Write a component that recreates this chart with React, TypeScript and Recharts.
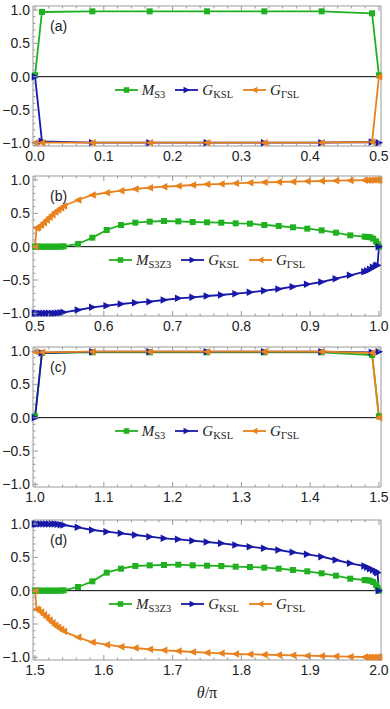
import { LineChart, Line, XAxis, YAxis, ReferenceLine, Legend } from "recharts";

const FRAME = "#999999";
const TEXT = "#222222";
const GREEN = "#20b020";
const BLUE = "#1818a8";
const ORANGE = "#e8821e";

// tick labels
const yMajor = [-1, -0.5, 0, 0.5, 1];
const xMajorA = [0, 0.1, 0.2, 0.3, 0.4, 0.5];
const xMajorB = [0.5, 0.6, 0.7, 0.8, 0.9, 1.0];
const xMajorC = [1.0, 1.1, 1.2, 1.3, 1.4, 1.5];
const xMajorD = [1.5, 1.6, 1.7, 1.8, 1.9, 2.0];

// panel (a)
const xA = [0, 0.01, 0.0833, 0.1667, 0.25, 0.3333, 0.4167, 0.49, 0.5];
const mA = [0.02, 0.97, 0.98, 0.98, 0.98, 0.98, 0.98, 0.95, 0.02];
const kA = [0.0, -0.97, -0.99, -0.99, -0.99, -0.99, -0.99, -0.98, -0.99];
const gA = [-0.99, -0.99, -0.99, -0.99, -0.99, -0.99, -0.99, -0.98, 0.0];

// panel (b)
const xB = [
  0.5, 0.5021, 0.5042, 0.5083, 0.5125, 0.5167, 0.5208, 0.525, 0.5292, 0.5333, 0.5375, 0.5417,
  0.5625, 0.5833, 0.6042, 0.625, 0.6458, 0.6667, 0.6875, 0.7083, 0.7292, 0.75, 0.7708, 0.7917,
  0.8125, 0.8333, 0.8542, 0.875, 0.8958, 0.9167, 0.9375, 0.9583, 0.9792,
  0.9833, 0.9875, 0.9917, 0.9958, 0.9979, 1.0,
];
const mB = [
  0, 0, 0, 0, 0, 0, 0, 0, 0, 0, 0, 0.005,
  0.04, 0.135, 0.25, 0.325, 0.36, 0.375, 0.385, 0.38, 0.37, 0.365, 0.36, 0.35,
  0.345, 0.325, 0.31, 0.29, 0.27, 0.245, 0.21, 0.17, 0.15,
  0.145, 0.14, 0.12, 0.08, 0.04, 0.0,
];
const kB = [
  -1.0, -1.0, -1.0, -1.0, -1.0, -1.0, -1.0, -1.0, -1.0, -0.995, -0.99, -0.985,
  -0.95, -0.91, -0.885, -0.86, -0.84, -0.825, -0.8, -0.775, -0.76, -0.74, -0.725, -0.705,
  -0.685, -0.66, -0.635, -0.6, -0.565, -0.53, -0.48, -0.43, -0.375,
  -0.36, -0.34, -0.31, -0.29, -0.28, 0.0,
];
const gB = [
  0.0, 0.28, 0.29, 0.32, 0.36, 0.4, 0.44, 0.48, 0.52, 0.55, 0.58, 0.61,
  0.7, 0.775, 0.81, 0.84, 0.865, 0.885, 0.9, 0.91, 0.925, 0.935, 0.94, 0.95,
  0.96, 0.965, 0.97, 0.975, 0.98, 0.985, 0.99, 0.993, 0.996,
  0.997, 0.998, 0.999, 1.0, 1.0, 1.0,
];

// panel (c)
const xC = [1.0, 1.01, 1.0833, 1.1667, 1.25, 1.3333, 1.4167, 1.49, 1.5];
const mC = [0.02, 0.97, 0.98, 0.98, 0.98, 0.98, 0.98, 0.94, 0.02];
const kC = [0.0, 0.97, 0.99, 0.99, 0.99, 0.99, 0.99, 0.98, 0.99];
const gC = [0.99, 0.98, 0.99, 0.99, 0.99, 0.99, 0.99, 0.97, 0.0];

// panel (d)
const xD = [
  1.5, 1.5021, 1.5042, 1.5083, 1.5125, 1.5167, 1.5208, 1.525, 1.5292, 1.5333, 1.5375, 1.5417,
  1.5625, 1.5833, 1.6042, 1.625, 1.6458, 1.6667, 1.6875, 1.7083, 1.7292, 1.75, 1.7708, 1.7917,
  1.8125, 1.8333, 1.8542, 1.875, 1.8958, 1.9167, 1.9375, 1.9583, 1.9792,
  1.9833, 1.9875, 1.9917, 1.9958, 1.9979, 2.0,
];
const mD = [
  0, 0, 0, 0, 0, 0, 0, 0, 0, 0, 0, 0.005,
  0.055, 0.14, 0.27, 0.33, 0.37, 0.38, 0.385, 0.39, 0.38, 0.375, 0.37, 0.36,
  0.355, 0.345, 0.33, 0.31, 0.29, 0.26, 0.225, 0.18, 0.16,
  0.155, 0.15, 0.13, 0.09, 0.04, 0.0,
];
const kD = [
  1.0, 1.0, 1.0, 1.0, 1.0, 1.0, 1.0, 1.0, 1.0, 0.995, 0.99, 0.985,
  0.95, 0.91, 0.885, 0.86, 0.835, 0.81, 0.785, 0.77, 0.75, 0.73, 0.71, 0.685,
  0.66, 0.635, 0.61, 0.575, 0.545, 0.51, 0.46, 0.41, 0.37,
  0.35, 0.33, 0.31, 0.29, 0.27, 0.0,
];
const gD = [
  0.0, -0.28, -0.29, -0.32, -0.36, -0.4, -0.44, -0.48, -0.52, -0.55, -0.58, -0.61,
  -0.7, -0.775, -0.81, -0.84, -0.86, -0.88, -0.895, -0.905, -0.92, -0.93, -0.94, -0.95,
  -0.955, -0.96, -0.965, -0.97, -0.975, -0.98, -0.985, -0.99, -0.995,
  -0.997, -0.998, -0.999, -1.0, -1.0, -1.0,
];

const yDomain = [-1.04, 1.06];

function withMinor(major: number[], step: number) {
  const lo = major[0];
  const hi = major[major.length - 1];
  const n = Math.round((hi - lo) / step);
  const out: number[] = [];
  for (let i = 0; i <= n; i++) out.push(+(lo + i * step).toFixed(4));
  return out;
}

const fmt = (v: number) => v.toFixed(1).replace("-", "\u2212");

function FrameTick(props: any) {
  const { x, y, payload, side, majors } = props;
  const v = payload.value;
  const major = majors.some((mv: number) => Math.abs(mv - v) < 1e-6);
  const len = major ? 5 : 2.5;
  let x2 = x;
  let y2 = y;
  if (side === "bottom") y2 = y - len;
  else if (side === "top") y2 = y + len;
  else if (side === "left") x2 = x + len;
  else x2 = x - len;
  return (
    <g>
      <line x1={x} y1={y} x2={x2} y2={y2} stroke={FRAME} strokeWidth={1} />
      {major && side === "bottom" && (
        <text x={x} y={y + 15} textAnchor="middle" fontSize={14} fill={TEXT} fontFamily="'Liberation Sans', Arial, sans-serif">
          {fmt(v)}
        </text>
      )}
      {major && side === "left" && (
        <text x={x - 3} y={y + 5} textAnchor="end" fontSize={14} fill={TEXT} fontFamily="'Liberation Sans', Arial, sans-serif">
          {fmt(v)}
        </text>
      )}
    </g>
  );
}

const Square = ({ cx, cy, color, size = 6 }: any) => (
  <rect x={cx - size / 2} y={cy - size / 2} width={size} height={size} fill={color} />
);

const TriRight = ({ cx, cy, color, size = 7.5 }: any) => (
  <polygon
    points={`${cx + size * 0.55},${cy} ${cx - size * 0.45},${cy - size / 2} ${cx - size * 0.45},${cy + size / 2}`}
    fill={color}
  />
);

const TriLeft = ({ cx, cy, color, size = 7.5 }: any) => (
  <polygon
    points={`${cx - size * 0.55},${cy} ${cx + size * 0.45},${cy - size / 2} ${cx + size * 0.45},${cy + size / 2}`}
    fill={color}
  />
);

function LegendRow({ mSub }: { mSub: string }) {
  const items = [
    { main: "M", sub: mSub, color: GREEN, Mk: Square },
    { main: "G", sub: "KSL", color: BLUE, Mk: TriRight },
    { main: "G", sub: "\u0393SL", color: ORANGE, Mk: TriLeft },
  ];
  return (
    <div
      style={{
        display: "flex",
        justifyContent: "center",
        alignItems: "center",
        paddingLeft: 24,
        gap: 10,
        fontFamily: "'Liberation Serif', 'DejaVu Serif', serif",
        fontSize: 15,
        color: TEXT,
        height: 20,
      }}
    >
      {items.map((it) => (
        <div key={it.sub + it.color} style={{ display: "flex", alignItems: "center" }}>
          <svg width={23} height={12}>
            <line x1={0} x2={23} y1={6} y2={6} stroke={it.color} strokeWidth={1.8} />
            <it.Mk cx={11.5} cy={6} color={it.color} size={it.Mk === Square ? 5.5 : 6.5} />
          </svg>
          <span style={{ marginLeft: 4, whiteSpace: "nowrap" }}>
            <i>{it.main}</i>
            <span style={{ fontSize: 10.5, position: "relative", top: 3 }}>{it.sub}</span>
          </span>
        </div>
      ))}
    </div>
  );
}

interface PanelProps {
  top: number;
  height: number;
  xs: number[];
  m: number[];
  k: number[];
  g: number[];
  xMajor: number[];
  tag: string;
  mSub: string;
}

function Panel({ top, height, xs, m, k, g, xMajor, tag, mSub }: PanelProps) {
  const data = xs.map((x, i) => ({ x, m: m[i], k: k[i], g: g[i] }));
  const xDomain = [xMajor[0] - 0.003, xMajor[xMajor.length - 1] + 0.003];
  const xTicks = withMinor(xMajor, 0.02);
  const yTicks = withMinor(yMajor, 0.1);
  return (
    <div style={{ position: "absolute", left: 0, top, width: 390, height }}>
      <LineChart width={390} height={height} data={data} margin={{ top: 0, right: 0, bottom: 0, left: 0 }}>
        <XAxis
          dataKey="x"
          type="number"
          domain={xDomain}
          ticks={xTicks}
          interval={0}
          tickSize={0}
          tickMargin={0}
          height={height - 146}
          axisLine={{ stroke: FRAME }}
          tickLine={false}
          tick={(p: any) => <FrameTick {...p} side="bottom" majors={xMajor} />}
        />
        <XAxis
          xAxisId="top"
          orientation="top"
          dataKey="x"
          type="number"
          domain={xDomain}
          ticks={xTicks}
          interval={0}
          tickSize={0}
          tickMargin={0}
          height={6}
          axisLine={{ stroke: FRAME }}
          tickLine={false}
          tick={(p: any) => <FrameTick {...p} side="top" majors={xMajor} />}
        />
        <YAxis
          type="number"
          domain={yDomain}
          ticks={yTicks}
          interval={0}
          tickSize={0}
          tickMargin={0}
          width={33}
          axisLine={{ stroke: FRAME }}
          tickLine={false}
          tick={(p: any) => <FrameTick {...p} side="left" majors={yMajor} />}
        />
        <YAxis
          yAxisId="right"
          orientation="right"
          type="number"
          domain={yDomain}
          ticks={yTicks}
          interval={0}
          tickSize={0}
          tickMargin={0}
          width={9}
          axisLine={{ stroke: FRAME }}
          tickLine={false}
          tick={(p: any) => <FrameTick {...p} side="right" majors={yMajor} />}
        />
        <ReferenceLine y={0} stroke="#000" strokeWidth={1} />
        <Line
          dataKey="m"
          stroke={GREEN}
          strokeWidth={1.8}
          isAnimationActive={false}
          dot={(p: any) => <Square key={"m" + p.index} cx={p.cx} cy={p.cy} color={GREEN} />}
          activeDot={false}
        />
        <Line
          dataKey="k"
          stroke={BLUE}
          strokeWidth={1.8}
          isAnimationActive={false}
          dot={(p: any) => <TriRight key={"k" + p.index} cx={p.cx} cy={p.cy} color={BLUE} />}
          activeDot={false}
        />
        <Line
          dataKey="g"
          stroke={ORANGE}
          strokeWidth={1.8}
          isAnimationActive={false}
          dot={(p: any) => <TriLeft key={"g" + p.index} cx={p.cx} cy={p.cy} color={ORANGE} />}
          activeDot={false}
        />
        <Legend
          verticalAlign="middle"
          align="center"
          layout="horizontal"
          wrapperStyle={{ top: 80, left: 0, width: 390, height: 20 }}
          content={() => <LegendRow mSub={mSub} />}
        />
      </LineChart>
      <div
        style={{
          position: "absolute",
          left: 50,
          top: 19,
          fontFamily: "'Liberation Sans', Arial, sans-serif",
          fontSize: 14,
          lineHeight: "14px",
          color: TEXT,
        }}
      >
        {tag}
      </div>
    </div>
  );
}

export default function App() {
  return (
    <div style={{ position: "absolute", left: 0, top: 0, width: 390, height: 709, background: "#fff" }}>
      <Panel top={0} height={170} xs={xA} m={mA} k={kA} g={gA} xMajor={xMajorA} tag="(a)" mSub="S3" />
      <Panel top={170} height={170} xs={xB} m={mB} k={kB} g={gB} xMajor={xMajorB} tag="(b)" mSub="S3Z3" />
      <Panel top={341} height={170} xs={xC} m={mC} k={kC} g={gC} xMajor={xMajorC} tag="(c)" mSub="S3" />
      <Panel top={514} height={195} xs={xD} m={mD} k={kD} g={gD} xMajor={xMajorD} tag="(d)" mSub="S3Z3" />
      <div
        style={{
          position: "absolute",
          left: 0,
          width: 414,
          top: 684,
          textAlign: "center",
          fontFamily: "'Liberation Serif', 'DejaVu Serif', serif",
          fontSize: 16,
          color: TEXT,
        }}
      >
        <i>θ</i>/π
      </div>
    </div>
  );
}
